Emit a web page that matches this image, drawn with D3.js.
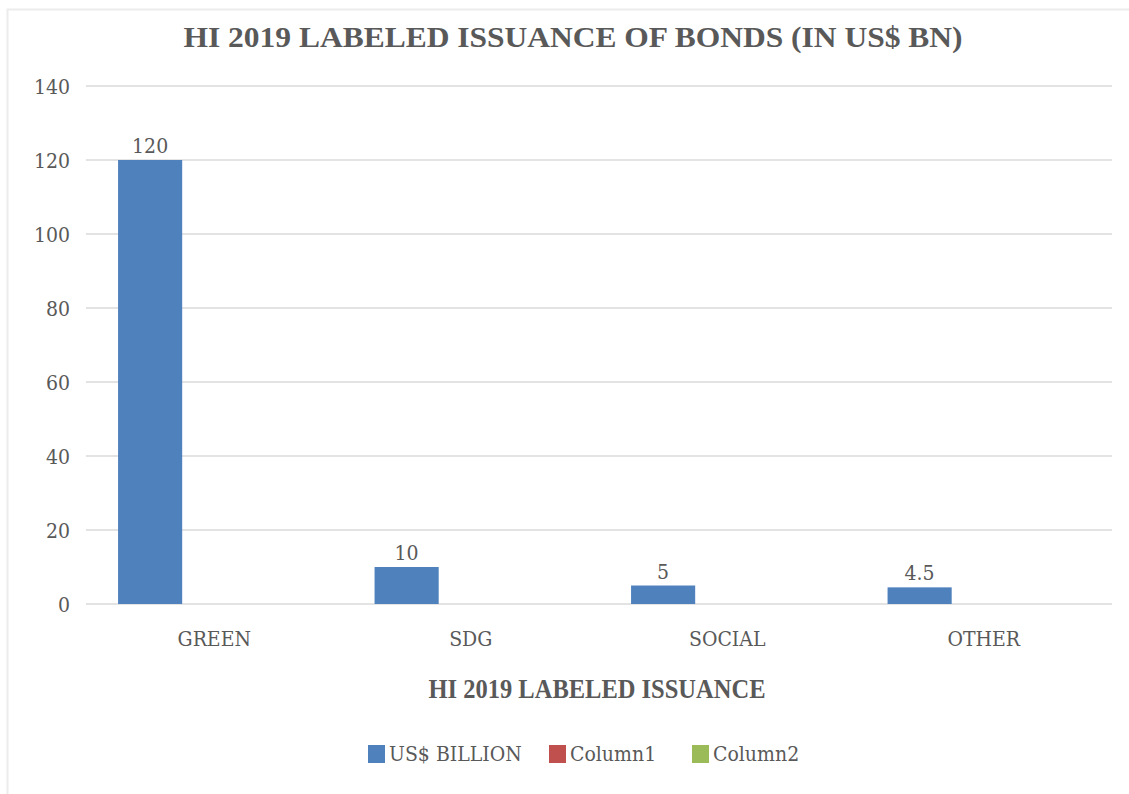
<!DOCTYPE html>
<html>
<head>
<meta charset="utf-8">
<script src="https://cdn.jsdelivr.net/npm/d3@7"></script>
<style>
  html, body { margin: 0; padding: 0; background: #fff; }
  svg { display: block; }
  .lbl { font-family: "DejaVu Serif Condensed", "DejaVu Serif", serif; font-stretch: condensed; fill: #595959; }
  .ttl { font-family: "Liberation Serif", "Times New Roman", serif; font-weight: bold; fill: #595959; }
</style>
</head>
<body>
<svg id="chart" width="1129" height="794"></svg>
<script>
// Labeled bond issuance, H1 2019 (US$ bn)
const categories = ["GREEN", "SDG", "SOCIAL", "OTHER"];
const seriesNames = ["US$ BILLION", "Column1", "Column2"];
const usdBillion = [120, 10, 5, 4.5];
const column1 = [null, null, null, null];
const column2 = [null, null, null, null];
const yTicks = [0, 20, 40, 60, 80, 100, 120, 140];
const colors = ["#4F81BD", "#C0504D", "#9BBB59"];

const svg = d3.select("#chart");

// faint chart-area frame
svg.append("rect")
  .attr("x", 7.5).attr("y", 9.5)
  .attr("width", 1140).attr("height", 800)
  .attr("fill", "none").attr("stroke", "#ececec").attr("stroke-width", 2);

const plot = { left: 86, right: 1112, top: 86, bottom: 604 };

const x = d3.scaleBand().domain(categories).range([plot.left, plot.right]).paddingInner(0).paddingOuter(0);
const xs = d3.scaleBand().domain(seriesNames).range([0, x.bandwidth()]).paddingInner(0).paddingOuter(0.5);
const y = d3.scaleLinear().domain([0, 140]).range([plot.bottom, plot.top]);

// gridlines
svg.append("g")
  .selectAll("line").data(yTicks).join("line")
  .attr("x1", plot.left).attr("x2", plot.right)
  .attr("y1", d => y(d)).attr("y2", d => y(d))
  .attr("stroke", "#e3e3e3").attr("stroke-width", 2);

// y axis labels
const yAxis = d3.axisLeft(y).tickValues(yTicks).tickSize(0).tickPadding(0);
const ya = svg.append("g").attr("transform", `translate(70,0)`).call(yAxis);
ya.select(".domain").remove();
ya.selectAll("text").attr("class", "lbl").attr("dy", "0.35em").style("font-size", "21px");

// x axis labels
const xAxis = d3.axisBottom(x).tickSize(0).tickPadding(0);
const xa = svg.append("g").attr("transform", `translate(0,${plot.bottom + 35})`).call(xAxis);
xa.select(".domain").remove();
xa.selectAll("text").attr("class", "lbl").style("font-size", "21px").attr("dy", "0.35em");

// bars
const seriesData = [usdBillion, column1, column2];
seriesData.forEach((vals, si) => {
  const g = svg.append("g");
  const pts = categories.map((c, i) => ({ c, v: vals[i] })).filter(d => d.v != null);
  g.selectAll("rect").data(pts).join("rect")
    .attr("x", d => x(d.c) + xs(seriesNames[si]))
    .attr("width", xs.bandwidth())
    .attr("y", d => y(d.v))
    .attr("height", d => y(0) - y(d.v))
    .attr("fill", colors[si]);
  g.selectAll("text").data(pts).join("text")
    .attr("class", "lbl")
    .style("font-size", "21px")
    .attr("text-anchor", "middle")
    .attr("x", d => x(d.c) + xs(seriesNames[si]) + xs.bandwidth() / 2)
    .attr("y", d => y(d.v) - 7)
    .text(d => d3.format("~g")(d.v));
});

// chart title
svg.append("text").attr("class", "ttl")
  .attr("x", 573).attr("y", 47)
  .attr("text-anchor", "middle")
  .style("font-size", "30px")
  .attr("textLength", 779).attr("lengthAdjust", "spacingAndGlyphs")
  .text("HI 2019 LABELED ISSUANCE OF BONDS (IN US$ BN)");

// x axis title
svg.append("text").attr("class", "ttl")
  .attr("x", 597).attr("y", 698)
  .attr("text-anchor", "middle")
  .style("font-size", "28px")
  .attr("textLength", 337).attr("lengthAdjust", "spacingAndGlyphs")
  .text("HI 2019 LABELED ISSUANCE");

// legend
const legendItems = [
  { name: seriesNames[0], color: colors[0], x: 368 },
  { name: seriesNames[1], color: colors[1], x: 549 },
  { name: seriesNames[2], color: colors[2], x: 692 }
];
const lg = svg.append("g");
lg.selectAll("rect").data(legendItems).join("rect")
  .attr("x", d => d.x).attr("y", 745)
  .attr("width", 17).attr("height", 18)
  .attr("fill", d => d.color);
lg.selectAll("text").data(legendItems).join("text")
  .attr("class", "lbl")
  .style("font-size", "21px")
  .attr("x", d => d.x + 21).attr("y", 754).attr("dy", "0.35em")
  .text(d => d.name);
</script>
</body>
</html>
